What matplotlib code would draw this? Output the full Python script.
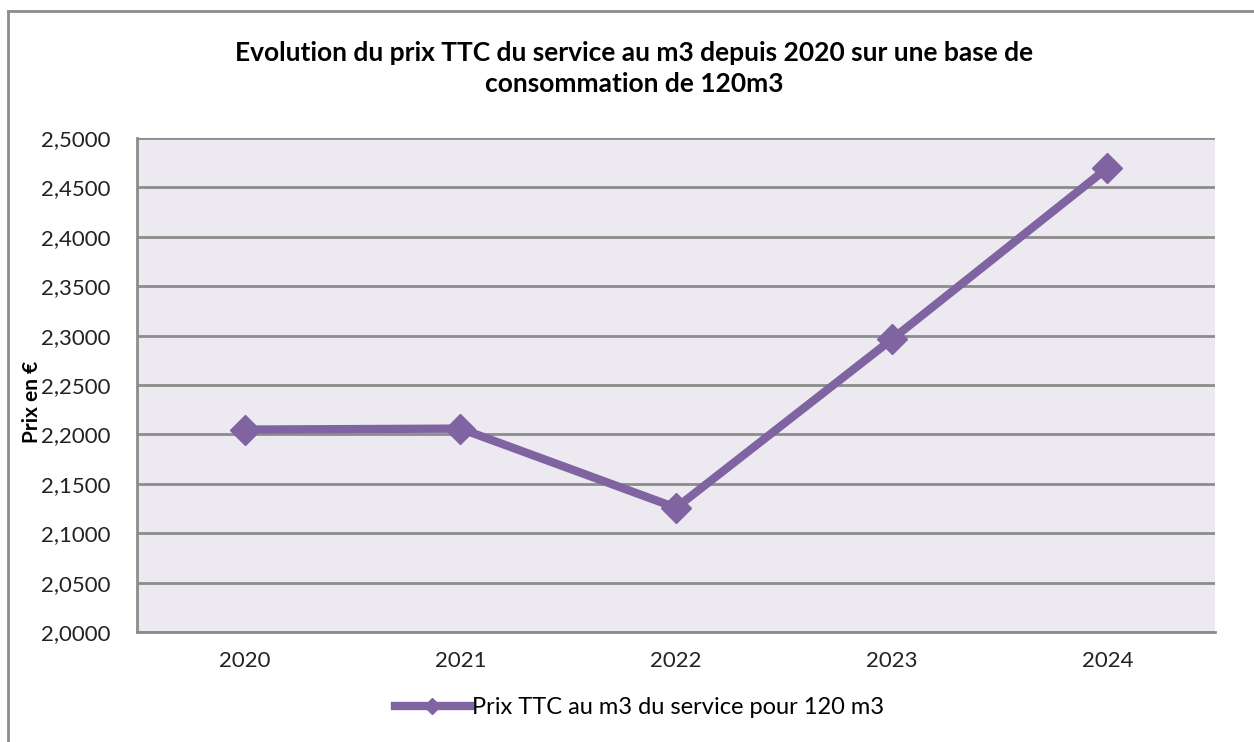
import matplotlib.pyplot as plt
from matplotlib.lines import Line2D
from matplotlib.ticker import FuncFormatter

# données
annees = ["2020", "2021", "2022", "2023", "2024"]
prix = [2.2049, 2.2059, 2.1258, 2.2961, 2.4696]
ticks_y = [2.00, 2.05, 2.10, 2.15, 2.20, 2.25, 2.30, 2.35, 2.40, 2.45, 2.50]
libelle = "Prix TTC au m3 du service pour 120 m3"

violet = "#8064A2"
gris = "#8C8C8C"

plt.rcParams['font.family'] = ['Lato', 'DejaVu Sans']

fig = plt.figure(figsize=(12.54, 7.42), dpi=100)
ax = fig.add_axes([0.1093, 0.1482, 0.8597, 0.6658])
ax.set_facecolor("#ECEAF0")

x = list(range(len(annees)))
ax.plot(x, prix, color=violet, lw=6, marker="D", markersize=15)

ax.set_xlim(-0.5, len(annees) - 0.5)
ax.set_ylim(2.0, 2.5)
ax.set_yticks(ticks_y)
ax.yaxis.set_major_formatter(FuncFormatter(lambda v, p: f"{v:.4f}".replace(".", ",")))
ax.set_xticks(x)
ax.set_xticklabels(annees)
ax.tick_params(length=0, labelsize=16, colors="#222222")
ax.tick_params(axis="y", pad=19)
ax.tick_params(axis="x", pad=14)

ax.grid(axis="y", color=gris, lw=2)
ax.set_axisbelow(True)
for s in ["top", "right"]:
    ax.spines[s].set_visible(False)
for s in ["left", "bottom"]:
    ax.spines[s].set_color(gris)
    ax.spines[s].set_linewidth(2)

ax.set_ylabel("Prix en €", fontsize=15, fontweight="bold")
ax.yaxis.set_label_coords(-0.088, 0.465)

fig.text(0.506, 0.908, "Evolution du prix TTC du service au m3 depuis 2020 sur une base de\nconsommation de 120m3",
         ha="center", va="center", fontsize=19, fontweight="bold", linespacing=1.35)

poignee = Line2D([], [], color=violet, lw=6, marker="D", markersize=8)
fig.legend([poignee], [libelle], loc="center", bbox_to_anchor=(0.51, 0.046), frameon=False,
           fontsize=17, handlelength=3.2, handletextpad=0.1)

# cadre du graphique
fig.add_artist(Line2D([8 / 1254, 8 / 1254], [0, 1 - 11 / 742], color=gris, lw=2))
fig.add_artist(Line2D([8 / 1254, 1], [1 - 11 / 742, 1 - 11 / 742], color=gris, lw=2))

plt.savefig("out.png", dpi=100)
